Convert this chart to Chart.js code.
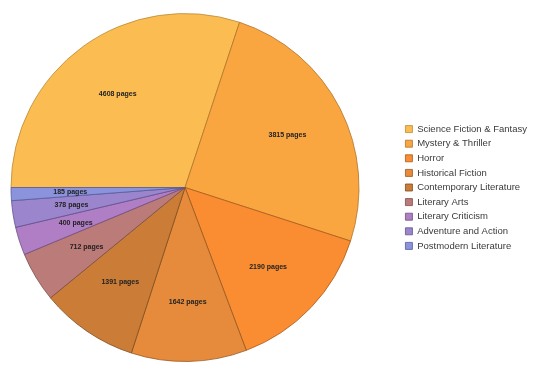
<!DOCTYPE html>
<html lang="en">
<head>
  <meta charset="UTF-8" />
  <title>Pages by Genre</title>
  <script src="https://cdn.jsdelivr.net/npm/chart.js"></script>
  <style>
    html, body {
      margin: 0;
      padding: 0;
      background: #ffffff;
    }
    .wrap {
      width: 540px;
      height: 369px;
    }
  </style>
</head>
<body>
  <div class="wrap">
    <canvas id="pieChart" width="540" height="369"></canvas>
  </div>

  <script>
    const genres = [
      'Science Fiction & Fantasy',
      'Mystery & Thriller',
      'Horror',
      'Historical Fiction',
      'Contemporary Literature',
      'Literary Arts',
      'Literary Criticism',
      'Adventure and Action',
      'Postmodern Literature'
    ];
    const pages = [4608, 3815, 2190, 1642, 1391, 712, 400, 378, 185];

    const fillColors = ['#fbbd52', '#f9a540', '#fa8d31', '#e68b3b', '#cb7d37', '#bb7b78', '#af7ec4', '#9b85cd', '#8b93dc'];
    const edgeColors = ['#b98a3a', '#b0742a', '#a85a1c', '#955820', '#7e4c20', '#7a4e4c', '#6e4e80', '#5e5290', '#565c98'];

    // pie sits left of centre in the original, leaving a wide gap before the legend
    const pieArea = {
      id: 'pieArea',
      afterLayout(chart) {
        const a = chart.chartArea;
        a.left = 0;
        a.right = 370;
        a.width = 370;
      }
    };

    // draws "N pages" inside each slice
    const sliceLabels = {
      id: 'sliceLabels',
      afterDatasetsDraw(chart) {
        const ctx = chart.ctx;
        const meta = chart.getDatasetMeta(0);
        ctx.save();
        ctx.font = 'bold 7px "Liberation Sans", Arial, sans-serif';
        ctx.fillStyle = '#222222';
        ctx.textAlign = 'center';
        ctx.textBaseline = 'middle';
        meta.data.forEach((arc, i) => {
          const mid = (arc.startAngle + arc.endAngle) / 2;
          const r = arc.outerRadius * 0.66;
          const x = arc.x + Math.cos(mid) * r;
          const y = arc.y + Math.sin(mid) * r;
          ctx.fillText(pages[i] + ' pages', x, y);
        });
        ctx.restore();
      }
    };

    const ctx = document.getElementById('pieChart').getContext('2d');
    new Chart(ctx, {
      type: 'pie',
      data: {
        labels: genres,
        datasets: [{
          data: pages,
          backgroundColor: fillColors,
          borderColor: edgeColors,
          borderWidth: 0.8
        }]
      },
      options: {
        responsive: false,
        animation: false,
        rotation: -90,
        radius: 174,
        layout: {
          padding: { left: 0, right: 3, top: 6, bottom: 0 }
        },
        plugins: {
          tooltip: { enabled: false },
          legend: {
            position: 'right',
            labels: {
              boxWidth: 7,
              boxHeight: 7,
              padding: 5.1,
              color: '#3a3a3a',
              font: { size: 9.5, family: '"Liberation Sans", Arial, sans-serif' }
            }
          }
        }
      },
      plugins: [pieArea, sliceLabels]
    });
  </script>
</body>
</html>
